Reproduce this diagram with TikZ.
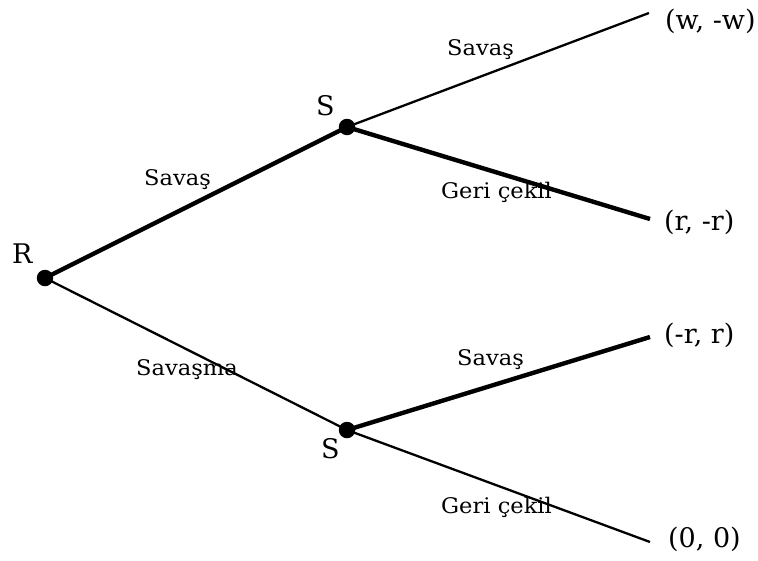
\documentclass[tikz,border=0pt]{standalone}
\usepackage{fontspec}
\setmainfont{DejaVu Serif}
\newfontfamily\lblfont{DejaVu Serif}[FakeStretch=1.05]
\begin{document}
\begin{tikzpicture}[x=1pt,y=-1pt,
  dot/.style={circle,fill=black,inner sep=0pt,minimum size=16.5pt},
  thickedge/.style={line width=4.4pt},
  thinedge/.style={line width=2.3pt},
  player/.style={anchor=base west,inner sep=0pt,font=\fontsize{27}{30}\selectfont},
  payoff/.style={anchor=base west,inner sep=0pt,font=\fontsize{27}{30}\selectfont},
  move/.style={anchor=base west,inner sep=0pt,font=\lblfont\fontsize{21.5}{24}\selectfont}]
\useasboundingbox (0,0) rectangle (758,560);
% decision nodes
\node[dot] (r) at (45,278) {};
\node[dot] (s1) at (347,127) {};
\node[dot] (s2) at (347,430) {};
% terminal points
\coordinate (t1) at (649,13);
\coordinate (t2) at (650,219);
\coordinate (t3) at (650,337);
\coordinate (t4) at (650,542);
% edges
\draw[thickedge] (r.center) -- (s1.center);
\draw[thinedge] (r.center) -- (s2.center);
\draw[thinedge] (s1.center) -- (t1);
\draw[thickedge] (s1.center) -- (t2);
\draw[thickedge] (s2.center) -- (t3);
\draw[thinedge] (s2.center) -- (t4);
% player labels
\node[player] (lr) at (12,263) {R};
\node[player] (ls1) at (316,115) {S};
\node[player] (ls2) at (321,458) {S};
% payoffs
\node[payoff] (p1) at (665,29) {(w, -w)};
\node[payoff] (p2) at (664,230) {(r, -r)};
\node[payoff] (p3) at (664,343) {(-r, r)};
\node[payoff] (p4) at (668,547) {(0, 0)};
% move labels
\node[move] (m1) at (447,55) {Savaş};
\node[move] (m2) at (144,185) {Savaş};
\node[move] (m3) at (441,198) {Geri çekil};
\node[move] (m4) at (136,375) {Savaşma};
\node[move] (m5) at (457,365) {Savaş};
\node[move] (m6) at (441,513) {Geri çekil};
\end{tikzpicture}
\end{document}
